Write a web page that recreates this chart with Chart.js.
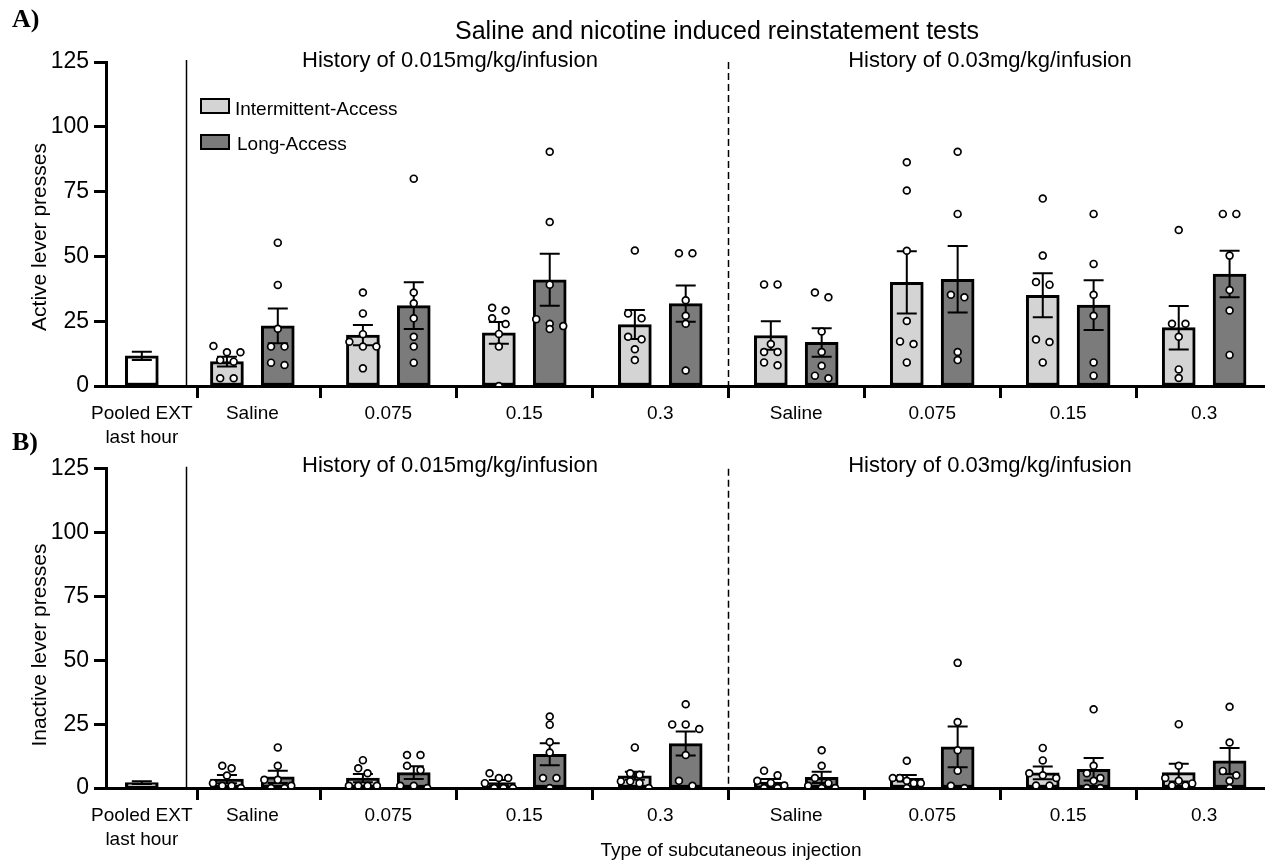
<!DOCTYPE html>
<html><head><meta charset="utf-8">
<script src="https://cdn.jsdelivr.net/npm/chart.js@4.4.1/dist/chart.umd.min.js"></script>
<style>
body{margin:0;background:#fff;}
#wrap{position:relative;width:1270px;height:861px;overflow:hidden;font-family:'Liberation Sans',Arial,sans-serif;color:#000;}
canvas{position:absolute;left:0;}
.t{position:absolute;white-space:nowrap;line-height:1;transform:translate(-50%,-50%);}
.l{position:absolute;white-space:nowrap;line-height:1;transform:translateY(-50%);}
.rot{position:absolute;white-space:nowrap;line-height:1;transform:translate(-50%,-50%) rotate(-90deg);}
.panel{font-family:'Liberation Serif','Times New Roman',serif;font-weight:bold;font-size:26px;}
.sw{position:absolute;box-sizing:border-box;border:2px solid #000;width:30px;height:16px;}
</style></head>
<body><div id="wrap">
<canvas id="cA" width="1270" height="450" style="top:0"></canvas>
<canvas id="cB" width="1270" height="411" style="top:450px"></canvas>
<div class="l panel" style="left:12px;top:19px">A)</div>
<div class="l panel" style="left:12px;top:442px">B)</div>
<div class="t" style="left:717px;top:30px;font-size:25px">Saline and nicotine induced reinstatement tests</div>
<div class="t" style="left:450px;top:60px;font-size:22px">History of 0.015mg/kg/infusion</div>
<div class="t" style="left:990px;top:60px;font-size:22px">History of 0.03mg/kg/infusion</div>
<div class="t" style="left:450px;top:465px;font-size:22px">History of 0.015mg/kg/infusion</div>
<div class="t" style="left:990px;top:465px;font-size:22px">History of 0.03mg/kg/infusion</div>
<div class="rot" style="left:38px;top:237px;font-size:21px">Active lever presses</div>
<div class="rot" style="left:38px;top:645px;font-size:21px">Inactive lever presses</div>
<div class="t" style="left:731px;top:849px;font-size:19px">Type of subcutaneous injection</div>
<div class="sw" style="left:200px;top:98px;background:#d4d4d4"></div>
<div class="sw" style="left:200px;top:134px;background:#7b7b7b"></div>
<div class="l" style="left:235px;top:108px;font-size:19px">Intermittent-Access</div>
<div class="l" style="left:237px;top:143px;font-size:19px">Long-Access</div>
</div>
<script>
// ---------- categories / tick labels ----------
const groupLabels = ['Saline','0.075','0.15','0.3','Saline','0.075','0.15','0.3'];
const pooledLabel = ['Pooled EXT','last hour'];

// ---------- Panel A: active lever presses ----------
const activePooledMean = [11.6];
const activePooledSem  = [1.6];
const activeIAMean = [9.4, 19.6, 20.5, 23.7, 19.5, 40.0, 35.0, 22.5];
const activeIASem  = [1.9, 3.9, 4.2, 5.6, 5.5, 12.0, 8.5, 8.4];
const activeLAMean = [23.2, 31.0, 41.0, 31.8, 16.8, 41.2, 31.2, 43.2];
const activeLASem  = [6.7, 9.0, 10.0, 7.0, 5.5, 12.8, 9.6, 9.0];
const activeIAPoints = [
  [15.4, 13, 13, 10, 9.4, 3, 3],
  [36.1, 28, 20, 17.1, 15.2, 15.2, 6.8],
  [30.2, 29.1, 26.1, 23.9, 20.1, 15.2, 0],
  [52.3, 28, 26.1, 19, 18, 14.2, 10],
  [39.2, 39.2, 16.2, 13.1, 13.1, 9.1, 8],
  [86.3, 75.4, 52.2, 25.1, 17.2, 16.2, 9.1],
  [72.3, 50.3, 40.1, 39.1, 17.9, 17, 9.1],
  [60.2, 24, 24, 19, 6.4, 3.1]
];
const activeLAPoints = [
  [55.3, 39, 22.1, 15.2, 15.2, 9, 8.1],
  [80, 36.1, 31.9, 26.1, 19, 15.2, 9],
  [90.4, 63.3, 39.1, 25.8, 24, 23.1, 22],
  [51.2, 51.2, 33.1, 27.1, 24, 6],
  [36.1, 34.2, 21, 13.1, 7.8, 4, 3],
  [90.4, 66.4, 35.2, 34.2, 13.1, 10],
  [66.4, 47.1, 35.2, 27.1, 9.1, 4],
  [66.4, 66.4, 50.3, 37, 29.1, 12]
];

// ---------- Panel B: inactive lever presses ----------
const inactivePooledMean = [2.1];
const inactivePooledSem  = [0.5];
const inactiveIAMean = [3.5, 3.9, 2.1, 4.8, 2.3, 3.8, 5.9, 6.0];
const inactiveIASem  = [1.6, 1.6, 1.0, 1.6, 1.2, 1.3, 2.5, 3.5];
const inactiveLAMean = [4.4, 6.0, 13.2, 17.4, 4.2, 16.1, 7.3, 10.6];
const inactiveLASem  = [2.4, 2.5, 4.3, 4.7, 2.2, 8.0, 4.4, 5.1];
const inactiveIAPoints = [
  [8.7, 7.7, 4.9, 1.9, 0.9, 0.9, 0],
  [10.9, 7.7, 5.8, 0.9, 0.9, 0.9, 0.9],
  [5.8, 3.9, 3.9, 1.9, 0, 0, 0],
  [15.9, 5.8, 5.2, 2.6, 2.6, 1.9, 0],
  [6.8, 5, 2.8, 2, 1, 0, 0],
  [10.7, 3.9, 3.9, 2.8, 1.9, 1.9, 0],
  [15.7, 10.8, 5.8, 5, 3.9, 1, 1],
  [25, 8.7, 3.9, 2.8, 1.8, 1, 1]
];
const inactiveLAPoints = [
  [15.9, 8.7, 3.2, 3.2, 0.9, 0, 0],
  [12.9, 12.9, 8.7, 7, 0.9, 0.9, 0],
  [28, 24.8, 18, 13.9, 3.9, 3.9, 0],
  [32.8, 24.9, 24.9, 23.1, 12.9, 2.8, 0.9],
  [14.8, 8.7, 3.9, 1.9, 0.9, 0, 0],
  [49, 25.8, 14.8, 6.8, 0.9, 0],
  [30.8, 8.7, 5.8, 3.9, 2.8, 0, 0],
  [31.8, 17.8, 6.7, 5, 2.8, 0]
];

// ---------- layout (axis positions, not data) ----------
const X_MIN = -0.0764, X_MAX = 8.4467;
const POOLED_X = 0.187, SOLID_SEP_X = 0.509, DASHED_SEP_X = 4.5, BAR_OFFSET = 0.187;
const GROUP_X = groupLabels.map((_, i) => i + 1);
const TICK_X = [POOLED_X].concat(GROUP_X);
const TICK_LABELS = [pooledLabel].concat(groupLabels);
const IA_COLOR = '#d4d4d4', LA_COLOR = '#7b7b7b';

Chart.defaults.font.family = "'Liberation Sans', Arial, sans-serif";
Chart.defaults.color = '#000';

const errorBarPlugin = {
  id: 'errbars',
  afterDatasetDraw(chart, args) {
    const ds = chart.data.datasets[args.index];
    if (!ds.sem) return;
    const y = chart.scales.y, c = chart.ctx;
    c.save(); c.strokeStyle = '#000'; c.lineWidth = 2;
    args.meta.data.forEach((el, i) => {
      const m = ds.data[i].y, s = ds.sem[i];
      const yt = y.getPixelForValue(m + s), yb = y.getPixelForValue(Math.max(0, m - s));
      const x = el.x, hw = 10;
      c.beginPath();
      c.moveTo(x, yb); c.lineTo(x, yt);
      c.moveTo(x - hw, yt); c.lineTo(x + hw, yt);
      c.moveTo(x - hw, yb); c.lineTo(x + hw, yb);
      c.stroke();
    });
    c.restore();
  }
};
const sepPlugin = {
  id: 'seps',
  afterDatasetsDraw(chart) {
    const x = chart.scales.x, a = chart.chartArea, c = chart.ctx;
    c.save(); c.strokeStyle = '#000'; c.lineWidth = 1.5;
    let px = Math.round(x.getPixelForValue(SOLID_SEP_X)) + 0.5;
    c.beginPath(); c.moveTo(px, a.top - 2); c.lineTo(px, a.bottom); c.stroke();
    px = Math.round(x.getPixelForValue(DASHED_SEP_X)) + 0.5;
    c.setLineDash([7, 4]);
    c.beginPath(); c.moveTo(px, a.top); c.lineTo(px, a.bottom); c.stroke();
    c.restore();
  }
};

function centerPoints(groups, off) {
  const out = [];
  groups.forEach((vals, g) => vals.forEach(v => out.push({ x: GROUP_X[g] + off, y: v })));
  return out;
}

function swarm(chart, dsIndex, groups, off) {
  const xs = chart.scales.x, ys = chart.scales.y;
  const pxPerX = xs.getPixelForValue(1) - xs.getPixelForValue(0);
  const out = [];
  groups.forEach((vals, g) => {
    const pts = vals.map(v => ({ v, py: ys.getPixelForValue(v) })).sort((a, b) => a.py - b.py);
    const rows = [];
    let cur = null;
    pts.forEach(p => {
      if (cur && p.py - cur.anchor < 7) cur.items.push(p);
      else { cur = { anchor: p.py, items: [p] }; rows.push(cur); }
    });
    const maxRow = Math.max(...rows.map(r => r.items.length));
    const spacing = maxRow > 1 ? Math.min(13.5, 28 / (maxRow - 1)) : 0;
    rows.forEach(r => {
      const n = r.items.length;
      r.items.forEach((p, i) => {
        const dpx = (i - (n - 1) / 2) * spacing;
        out.push({ x: GROUP_X[g] + off + dpx / pxPerX, y: p.v });
      });
    });
  });
  chart.data.datasets[dsIndex].data = out;
}

function buildPanel(id, d, padTop, xAxisH, yTitle) {
  const barCommon = { type: 'bar', borderColor: '#000', borderWidth: 3, borderSkipped: false,
    grouped: false, maxBarThickness: 33, categoryPercentage: 1, barPercentage: 1, order: 1 };
  const ptCommon = { type: 'scatter', order: 0, pointRadius: 3.4, pointBorderWidth: 1.7,
    pointBackgroundColor: '#fff', pointBorderColor: '#000', pointHoverRadius: 3.4 };
  const chart = new Chart(document.getElementById(id), {
    type: 'bar',
    data: {
      datasets: [
        Object.assign({ label: 'IA points', data: centerPoints(d.iaPts, -BAR_OFFSET) }, ptCommon),
        Object.assign({ label: 'LA points', data: centerPoints(d.laPts, BAR_OFFSET) }, ptCommon),
        Object.assign({ label: 'Pooled EXT last hour', data: d.pooledMean.map(v => ({ x: POOLED_X, y: v })),
          sem: d.pooledSem, backgroundColor: '#fff' }, barCommon),
        Object.assign({ label: 'Intermittent-Access', data: d.iaMean.map((v, i) => ({ x: GROUP_X[i] - BAR_OFFSET, y: v })),
          sem: d.iaSem, backgroundColor: IA_COLOR }, barCommon),
        Object.assign({ label: 'Long-Access', data: d.laMean.map((v, i) => ({ x: GROUP_X[i] + BAR_OFFSET, y: v })),
          sem: d.laSem, backgroundColor: LA_COLOR }, barCommon)
      ]
    },
    options: {
      responsive: false, animation: false, devicePixelRatio: 1,
      layout: { padding: { top: padTop, left: 0, right: 0, bottom: 0 } },
      plugins: { legend: { display: false }, tooltip: { enabled: false }, title: { display: false } },
      scales: {
        x: {
          type: 'linear', min: X_MIN, max: X_MAX, offset: false,
          afterBuildTicks: s => { s.ticks = TICK_X.map(v => ({ value: v })); },
          afterFit: s => { s.height = xAxisH; },
          ticks: { autoSkip: false, maxRotation: 0, minRotation: 0, color: '#000',
            font: { size: 19, lineHeight: 1.25 }, padding: 4,
            callback: (v, i) => TICK_LABELS[i] },
          grid: { drawOnChartArea: false, drawTicks: true, tickLength: 12, tickWidth: 3, tickColor: '#000' },
          border: { display: true, color: '#000', width: 3 }
        },
        y: {
          min: 0, max: 125,
          afterFit: s => { s.width = 106; },
          ticks: { stepSize: 25, color: '#000', font: { size: 23 }, padding: 5 },
          grid: { drawOnChartArea: false, drawTicks: true, tickLength: 12, tickWidth: 3, tickColor: '#000' },
          border: { display: true, color: '#000', width: 3 },
          title: { display: false, text: yTitle }
        }
      }
    },
    plugins: [errorBarPlugin, sepPlugin]
  });
  swarm(chart, 0, d.iaPts, -BAR_OFFSET);
  swarm(chart, 1, d.laPts, BAR_OFFSET);
  chart.update('none');
  return chart;
}

buildPanel('cA', {
  pooledMean: activePooledMean, pooledSem: activePooledSem,
  iaMean: activeIAMean, iaSem: activeIASem, laMean: activeLAMean, laSem: activeLASem,
  iaPts: activeIAPoints, laPts: activeLAPoints
}, 62, 64, 'Active lever presses');

buildPanel('cB', {
  pooledMean: inactivePooledMean, pooledSem: inactivePooledSem,
  iaMean: inactiveIAMean, iaSem: inactiveIASem, laMean: inactiveLAMean, laSem: inactiveLASem,
  iaPts: inactiveIAPoints, laPts: inactiveLAPoints
}, 15, 73, 'Inactive lever presses');
</script>
</body></html>
